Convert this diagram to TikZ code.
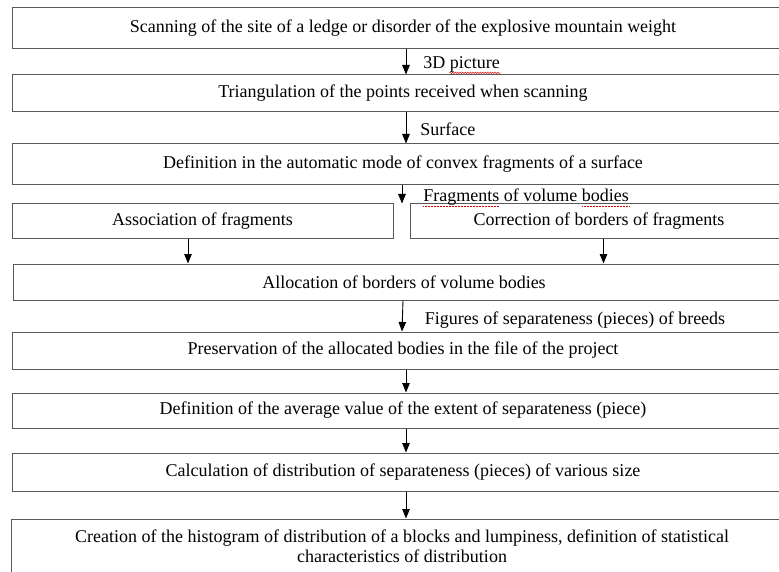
\documentclass[tikz,border=0pt]{standalone}
\usepackage{fontspec}
\setmainfont{Liberation Serif}
\usetikzlibrary{arrows.meta,decorations.pathmorphing}
\colorlet{boxline}{black!65}
\colorlet{spell}{red!85!black}

\begin{document}
\begin{tikzpicture}[x=1pt,y=-1pt,
  stage/.style={draw=boxline,line width=1pt,minimum width=782pt,inner sep=0pt,
    align=center,font=\fontsize{18}{20.5}\selectfont},
  half/.style={stage,minimum width=381pt},
  flow/.style={-{Triangle[length=9.5pt,width=7.5pt]},line width=0.9pt},
  note/.style={right,inner sep=0pt,font=\fontsize{18}{20.5}\selectfont},
  typo/.style={spell,line width=0.5pt}]
\useasboundingbox (0,0) rectangle (779,572);
\clip (0,0) rectangle (779,572);
\node[stage,minimum height=41pt] (scan) at (403,28.5) {Scanning of the site of a ledge or disorder of the explosive mountain weight};
\node[stage,minimum height=37pt] (tri) at (403,93.5) {Triangulation of the points received when scanning};
\node[stage,minimum height=41pt] (conv) at (403,164.5) {Definition in the automatic mode of convex fragments of a surface};
\node[half,minimum height=35pt] (assoc) at (202.5,221.5) {Association of fragments};
\node[half,minimum width=378pt,minimum height=35pt] (corr) at (599,221.5) {Correction of borders of fragments};
\node[stage,minimum height=36pt] (alloc) at (404,282) {Allocation of borders of volume bodies};
\node[stage,minimum height=37pt] (save) at (403,350.5) {Preservation of the allocated bodies in the file of the project};
\node[stage,minimum height=35pt] (avg) at (403,410.5) {Definition of the average value of the extent of separateness (piece)};
\node[stage,minimum height=38pt] (distr) at (403,472) {Calculation of distribution of separateness (pieces) of various size};
\node[stage,minimum height=54pt] (hist) at (402,546) {Creation of the histogram of distribution of a blocks and lumpiness, definition of statistical\\characteristics of distribution};
% arrows
\draw[flow] ([xshift=3pt]scan.south) -- node[note,pos=0.6,xshift=17pt] (pic) {3D picture} ([xshift=3pt]tri.north);
\draw[flow] ([xshift=3pt]tri.south) -- node[note,pos=0.53,xshift=14pt] {Surface} ([xshift=3pt]conv.north);
\coordinate (fork) at ([xshift=-1pt]conv.south);
\draw[flow] (fork) -- node[note,pos=0.67,xshift=21pt] (frag) {Fragments of volume bodies} (fork |- assoc.north);
\coordinate (la) at ([xshift=-14.5pt]assoc.south);
\coordinate (ra) at ([xshift=4.5pt]corr.south);
\draw[flow] (la) -- (la |- alloc.north);
\draw[flow] (ra) -- (ra |- alloc.north);
\draw[flow] ([xshift=-1pt]alloc.south) -- node[note,pos=0.62,xshift=22pt] {Figures of separateness (pieces) of breeds} ([xshift=-1pt]save.north);
\draw[flow] ([xshift=3pt]save.south) -- ([xshift=3pt]avg.north);
\draw[flow] ([xshift=3pt]avg.south) -- ([xshift=3pt]distr.north);
\draw[flow] ([xshift=3pt]distr.south) -- ([xshift=4pt]hist.north);
% spelling marks
\draw[typo,decorate,decoration={snake,amplitude=0.7pt,segment length=2.5pt}] ([xshift=26.5pt]pic.south west) -- (pic.south east);
\draw[typo,densely dotted] (frag.south west) -- ([xshift=76pt]frag.south west);
\draw[typo,densely dotted] ([xshift=-47pt]frag.south east) -- (frag.south east);
\end{tikzpicture}
\end{document}
